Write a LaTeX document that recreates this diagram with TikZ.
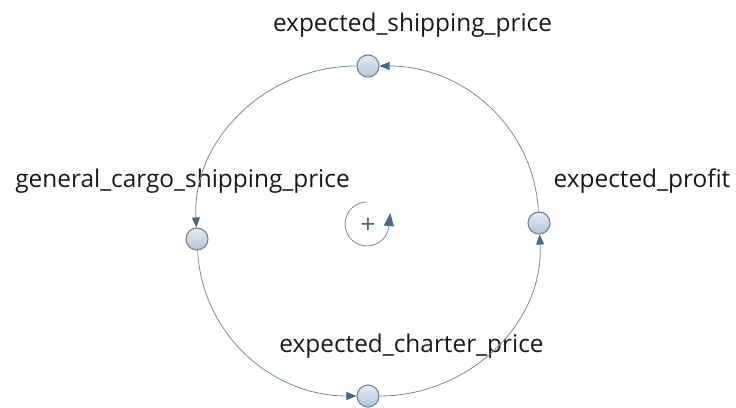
\documentclass[tikz,border=0pt]{standalone}
\usepackage{fontspec}
\setmainfont{Open Sans}
\usetikzlibrary{arrows.meta}
\definecolor{loopline}{HTML}{6E8FA8}
\definecolor{loophead}{HTML}{3F6C8C}
\definecolor{varfill}{HTML}{E3ECF5}
\definecolor{varshade}{HTML}{AFC6DA}
\definecolor{varrim}{HTML}{7F7F7F}
\tikzset{
  var/.style={circle, draw=varrim, line width=1.1pt, top color=varfill,
              bottom color=varshade, minimum size=22pt, inner sep=0pt},
  lbl/.style={anchor=base, inner sep=0pt, text=black!90,
              font=\fontsize{24.4}{28}\selectfont},
  link/.style={-{Triangle[length=10pt, width=8pt, color=loophead]},
               line width=0.8pt, draw=loopline},
}

\begin{document}
\begin{tikzpicture}[x=1pt, y=1pt]
  \useasboundingbox (0,0) rectangle (736,407);

  % variables round the loop
  \node[var] (ship) at (368,341) {};
  \node[var] (cargo) at (197,168) {};
  \node[var] (charter) at (368,11) {};
  \node[var] (profit) at (539,184) {};

  \node[lbl] (shiplbl) at (412.5,375) {expected\_shipping\_price};
  \node[lbl] (cargolbl) at (182.5,219) {general\_cargo\_shipping\_price};
  \node[lbl] (charterlbl) at (411.5,55) {expected\_charter\_price};
  \node[lbl] (profitlbl) at (642,219) {expected\_profit};

  % causal links
  \draw[link] (ship) to[out=180, in=93] (cargo);
  \draw[link] (cargo) to[out=273, in=180] (charter);
  \draw[link] (charter) to[out=0, in=273] (profit);
  \draw[link] (profit) to[out=93, in=0] (ship);

  % loop marker
  \draw[link, -{Triangle[length=13pt, width=10pt, color=loophead]}]
    (367,205) arc[start angle=90, end angle=352, radius=22] -- ++(1.5,14);
  \node[text=loophead, font=\fontsize{26}{30}\selectfont] (polarity) at (368,181) {+};
\end{tikzpicture}
\end{document}
